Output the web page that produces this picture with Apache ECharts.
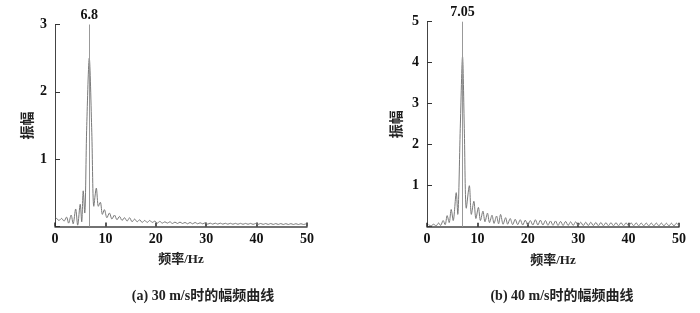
<!DOCTYPE html>
<html><head><meta charset="utf-8">
<script src="https://cdn.jsdelivr.net/npm/echarts@6/dist/echarts.min.js"></script>
<style>html,body{margin:0;padding:0;background:#fff}#c{width:700px;height:313px}</style>
</head><body><div id="c"></div>
<script>
// Chart (a): 30 m/s
var freqA = [0.2,0.8,1.3,1.8,2.3,2.7,3.2,3.6,4.1,4.5,5.0,5.3,5.6,5.9,6.3,6.8,7.3,7.7,8.2,8.6,9.0,9.4,9.8,10.3,10.8,11.3,11.8,12.3,12.8,13.3,13.8,14.3,14.8,15.3,15.8,16.3,16.8,17.3,17.8,18.3,18.8,19.3,19.8,20.3,20.8,21.3,21.8,22.3,22.8,23.3,23.8,24.3,24.8,25.3,25.8,26.3,26.8,27.3,27.8,28.3,28.8,29.3,29.8,30.3,30.8,31.3,31.8,32.3,32.8,33.3,33.8,34.3,34.8,35.3,35.8,36.3,36.8,37.3,37.8,38.3,38.8,39.3,39.8,40.3,40.8,41.3,41.8,42.3,42.8,43.3,43.8,44.3,44.8,45.3,45.8,46.3,46.8,47.3,47.8,48.3,48.8,49.3,49.8];
var ampA = [0.13,0.09,0.12,0.08,0.14,0.05,0.17,0.04,0.26,0.02,0.33,0.07,0.53,0.2,1.5,2.5,1.4,0.3,0.57,0.3,0.36,0.18,0.25,0.13,0.2,0.11,0.17,0.1,0.15,0.09,0.13,0.08,0.13,0.07,0.11,0.07,0.1,0.06,0.09,0.06,0.09,0.06,0.08,0.05,0.075,0.05,0.07,0.05,0.07,0.045,0.065,0.045,0.065,0.045,0.06,0.04,0.06,0.04,0.06,0.04,0.055,0.04,0.055,0.035,0.05,0.035,0.05,0.035,0.05,0.035,0.048,0.034,0.048,0.034,0.047,0.033,0.047,0.033,0.046,0.033,0.046,0.032,0.045,0.032,0.045,0.032,0.044,0.031,0.044,0.031,0.043,0.031,0.043,0.03,0.042,0.03,0.042,0.03,0.041,0.03,0.041,0.03,0.04];
var peakA = 6.8;
// Chart (b): 40 m/s
var freqB = [0.3,0.8,1.3,1.8,2.3,2.7,3.2,3.6,4.0,4.4,4.8,5.2,5.8,6.1,6.6,7.05,7.4,7.8,8.4,8.8,9.3,9.7,10.2,10.6,11.1,11.5,12.0,12.4,12.9,13.3,13.8,14.2,14.6,15.1,15.6,16.0,16.5,17.0,17.5,18.0,18.5,19.0,19.5,20.0,20.5,21.0,21.5,22.0,22.5,23.0,23.5,24.0,24.5,25.0,25.5,26.0,26.5,27.0,27.5,28.0,28.5,29.0,29.5,30.0,30.5,31.0,31.5,32.0,32.5,33.0,33.5,34.0,34.5,35.0,35.5,36.0,36.5,37.0,37.5,38.0,38.5,39.0,39.5,40.0,40.5,41.0,41.5,42.0,42.5,43.0,43.5,44.0,44.5,45.0,45.5,46.0,46.5,47.0,47.5,48.0,48.5,49.0,49.5,50.0];
var ampB = [0.05,0.02,0.06,0.02,0.09,0.03,0.15,0.05,0.27,0.1,0.42,0.15,0.83,0.3,2.4,4.15,2.4,0.45,1.0,0.3,0.62,0.2,0.47,0.15,0.38,0.12,0.33,0.1,0.28,0.08,0.26,0.07,0.3,0.06,0.22,0.06,0.2,0.05,0.18,0.05,0.17,0.04,0.16,0.04,0.15,0.04,0.17,0.04,0.16,0.04,0.15,0.035,0.14,0.035,0.14,0.03,0.13,0.03,0.13,0.03,0.12,0.03,0.12,0.025,0.11,0.025,0.11,0.025,0.11,0.025,0.105,0.02,0.105,0.02,0.1,0.02,0.1,0.02,0.1,0.02,0.1,0.02,0.095,0.02,0.095,0.02,0.095,0.02,0.09,0.02,0.09,0.02,0.09,0.02,0.09,0.02,0.09,0.02,0.085,0.02,0.085,0.02,0.085,0.02];
var peakB = 7.05;
var xTicks = [0,10,20,30,40,50];
var yMaxA = 3, yMaxB = 5;
var captionA = '(a) 30 m/s时的幅频曲线';
var captionB = '(b) 40 m/s时的幅频曲线';
var xName = '频率/Hz', yName = '振幅';

var FONT = '"Liberation Serif","Noto Sans CJK SC",serif';
var axisColor = '#444';
function xAxisDef(gi){
  return {gridIndex:gi,type:'value',min:xTicks[0],max:xTicks[xTicks.length-1],interval:10,
    name:xName,nameLocation:'middle',nameGap:27,
    nameTextStyle:{fontFamily:FONT,fontWeight:'bold',fontSize:13,color:'#222'},
    axisLine:{lineStyle:{color:axisColor,width:1.5}},
    axisTick:{inside:true,length:4,lineStyle:{color:'#222',width:1.5}},
    axisLabel:{fontFamily:FONT,fontWeight:'bold',fontSize:14,color:'#111',margin:6},
    splitLine:{show:false}};
}
function yAxisDef(gi,max,gap){
  return {gridIndex:gi,type:'value',min:0,max:max,interval:1,
    name:yName,nameLocation:'middle',nameGap:gap,
    nameTextStyle:{fontFamily:FONT,fontWeight:'bold',fontSize:14,color:'#222'},
    axisLine:{show:true,lineStyle:{color:axisColor,width:1}},
    axisTick:{show:true,inside:true,length:5,lineStyle:{color:'#333'}},
    axisLabel:{fontFamily:FONT,fontWeight:'bold',fontSize:14,color:'#111',margin:8,
      formatter:function(v){return v===0?'':String(v);}},
    splitLine:{show:false}};
}
function series(gi,fr,am,peak){
  return {type:'line',xAxisIndex:gi,yAxisIndex:gi,
    data:fr.map(function(f,i){return [f,am[i]];}),
    showSymbol:false,smooth:0.3,lineStyle:{color:'#7a7a7a',width:1},
    markLine:{silent:true,symbol:'none',
      lineStyle:{color:'#999',width:1,type:'solid'},
      label:{show:true,position:'end',distance:2,formatter:String(peak),
        fontFamily:FONT,fontWeight:'bold',fontSize:14,color:'#111'},
      data:[{xAxis:peak}]}};
}
var chart = echarts.init(document.getElementById('c'),null,{renderer:'canvas'});
chart.setOption({
  animation:false,
  backgroundColor:'#fff',
  grid:[{left:55,top:24.5,width:252,height:202},
        {left:427,top:21.7,width:252,height:205}],
  xAxis:[xAxisDef(0),xAxisDef(1)],
  yAxis:[yAxisDef(0,yMaxA,20),yAxisDef(1,yMaxB,23)],
  series:[series(0,freqA,ampA,peakA),series(1,freqB,ampB,peakB)],
  graphic:[
    {type:'text',x:203,y:296,style:{text:captionA,font:'bold 14px '+FONT,fill:'#222',textAlign:'center',textVerticalAlign:'middle'}},
    {type:'text',x:562,y:296,style:{text:captionB,font:'bold 14px '+FONT,fill:'#222',textAlign:'center',textVerticalAlign:'middle'}}
  ]
});
</script></body></html>
